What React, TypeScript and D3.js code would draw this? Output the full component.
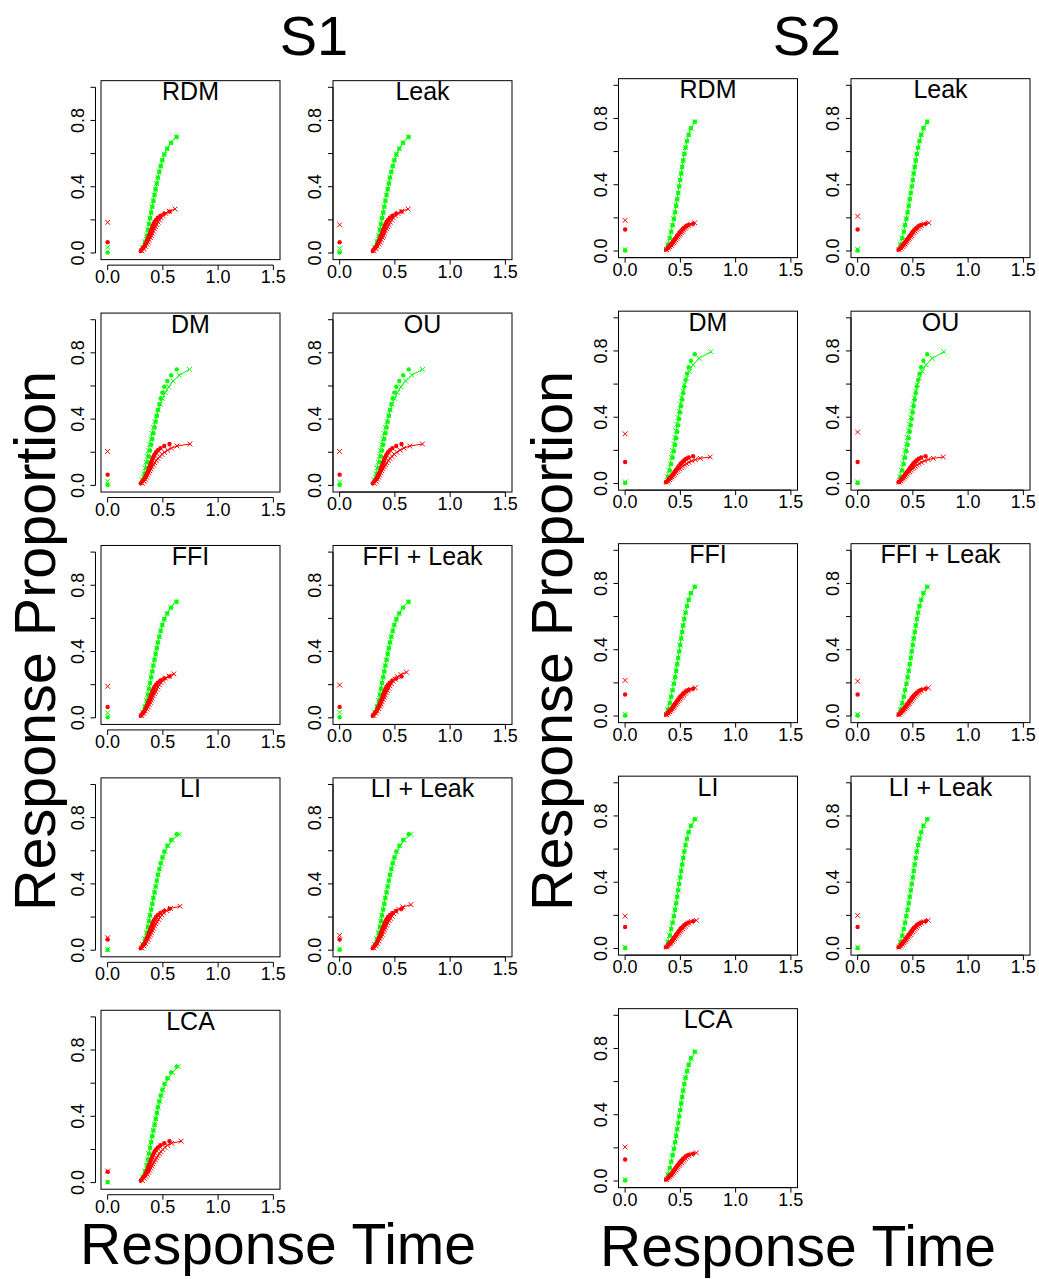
import React from 'react';
import * as d3 from 'd3';

// panel titles, in reading order (two per row)
const modelNames = ['RDM', 'Leak', 'DM', 'OU', 'FFI', 'FFI + Leak', 'LI', 'LI + Leak', 'LCA'];
const xTicks = [0, 0.5, 1.0, 1.5];
const yTicks = [0, 0.2, 0.4, 0.6, 0.8, 1.0];
const yTickLabels = ['0.0', '', '0.4', '', '0.8', ''];

// cumulative proportions (defective CDF levels)
const s1GreenY = [0.035, 0.07, 0.105, 0.14, 0.175, 0.21, 0.245, 0.28, 0.315, 0.35, 0.385, 0.42, 0.455, 0.49, 0.525, 0.56, 0.595, 0.63, 0.665, 0.70];
const s1RedY = [0.0125, 0.025, 0.0375, 0.05, 0.0625, 0.075, 0.0875, 0.1, 0.1125, 0.125, 0.1375, 0.15, 0.1625, 0.175, 0.1875, 0.2, 0.2125, 0.225, 0.2375, 0.25];
const s1RedYModel = [0.013, 0.026, 0.04, 0.053, 0.066, 0.08, 0.093, 0.106, 0.119, 0.133, 0.146, 0.159, 0.172, 0.186, 0.199, 0.212, 0.225, 0.239, 0.252, 0.265];
const s1RedYHigh = [0.0137, 0.0275, 0.041, 0.055, 0.069, 0.0825, 0.096, 0.11, 0.124, 0.1375, 0.151, 0.165, 0.179, 0.1925, 0.206, 0.22, 0.234, 0.2475, 0.261, 0.275];
const s2GreenY = [0.039, 0.078, 0.117, 0.156, 0.195, 0.234, 0.273, 0.312, 0.351, 0.39, 0.429, 0.468, 0.507, 0.546, 0.585, 0.624, 0.663, 0.702, 0.741, 0.78];
const s2GreenYLong = [0.04, 0.08, 0.119, 0.159, 0.199, 0.239, 0.278, 0.318, 0.358, 0.398, 0.437, 0.477, 0.517, 0.557, 0.596, 0.636, 0.676, 0.716, 0.755, 0.795];
const s2RedY = [0.008, 0.016, 0.025, 0.033, 0.041, 0.05, 0.058, 0.066, 0.074, 0.083, 0.091, 0.099, 0.107, 0.116, 0.124, 0.132, 0.14, 0.149, 0.157, 0.165];
const s2RedYModel = [0.0085, 0.017, 0.0255, 0.034, 0.0425, 0.051, 0.0595, 0.068, 0.0765, 0.085, 0.0935, 0.102, 0.1105, 0.119, 0.1275, 0.136, 0.1445, 0.153, 0.1615, 0.17];
const s2RedYLong = [0.008, 0.016, 0.024, 0.032, 0.04, 0.048, 0.056, 0.064, 0.072, 0.08, 0.088, 0.096, 0.104, 0.112, 0.12, 0.128, 0.136, 0.144, 0.152, 0.16];

// observed data (dots)
const s1DataGreenX = [0.32, 0.34, 0.355, 0.365, 0.375, 0.385, 0.395, 0.405, 0.415, 0.425, 0.435, 0.445, 0.455, 0.468, 0.48, 0.495, 0.513, 0.54, 0.575, 0.625];
const s1DataRedX = [0.30, 0.315, 0.33, 0.34, 0.35, 0.358, 0.366, 0.373, 0.38, 0.387, 0.394, 0.401, 0.408, 0.416, 0.425, 0.438, 0.455, 0.478, 0.512, 0.56];
const s2DataGreenX = [0.39, 0.405, 0.418, 0.43, 0.442, 0.453, 0.463, 0.472, 0.481, 0.49, 0.499, 0.508, 0.517, 0.526, 0.536, 0.547, 0.56, 0.575, 0.595, 0.63];
const s2DataRedX = [0.37, 0.385, 0.397, 0.408, 0.418, 0.427, 0.436, 0.445, 0.454, 0.463, 0.472, 0.481, 0.49, 0.5, 0.51, 0.522, 0.535, 0.552, 0.575, 0.615];
const s1DataZero = { green: 0.003, red: 0.065 };
const s2DataZero = { green: 0.003, red: 0.13 };

// model predictions, S1
const s1RdmGreen = [0.315, 0.336, 0.351, 0.362, 0.372, 0.382, 0.392, 0.402, 0.412, 0.422, 0.433, 0.444, 0.455, 0.467, 0.48, 0.495, 0.513, 0.538, 0.572, 0.62];
const s1RdmRed = [0.31, 0.328, 0.343, 0.356, 0.367, 0.377, 0.387, 0.396, 0.405, 0.414, 0.424, 0.434, 0.445, 0.457, 0.47, 0.485, 0.503, 0.526, 0.558, 0.61];
const s1LeakGreen = [0.316, 0.337, 0.352, 0.363, 0.373, 0.383, 0.393, 0.403, 0.413, 0.424, 0.435, 0.446, 0.457, 0.469, 0.482, 0.497, 0.515, 0.54, 0.574, 0.62];
const s1LeakRed = [0.311, 0.329, 0.344, 0.357, 0.368, 0.378, 0.388, 0.397, 0.406, 0.415, 0.425, 0.435, 0.446, 0.458, 0.471, 0.486, 0.505, 0.528, 0.562, 0.62];
const s1DmGreen = [0.31, 0.325, 0.337, 0.348, 0.358, 0.368, 0.379, 0.39, 0.402, 0.415, 0.428, 0.442, 0.458, 0.476, 0.497, 0.522, 0.553, 0.593, 0.648, 0.74];
const s1DmRed = [0.315, 0.33, 0.342, 0.352, 0.362, 0.372, 0.382, 0.392, 0.403, 0.414, 0.426, 0.44, 0.455, 0.472, 0.492, 0.515, 0.543, 0.578, 0.628, 0.745];
const s1OuGreen = [0.31, 0.326, 0.338, 0.349, 0.359, 0.369, 0.38, 0.391, 0.403, 0.416, 0.429, 0.443, 0.459, 0.477, 0.498, 0.523, 0.555, 0.596, 0.652, 0.75];
const s1OuRed = [0.316, 0.331, 0.343, 0.353, 0.363, 0.373, 0.383, 0.393, 0.404, 0.415, 0.427, 0.441, 0.456, 0.474, 0.494, 0.518, 0.547, 0.583, 0.635, 0.75];
const s1FfiGreen = [0.315, 0.336, 0.351, 0.362, 0.372, 0.382, 0.392, 0.402, 0.412, 0.422, 0.433, 0.444, 0.455, 0.467, 0.48, 0.495, 0.513, 0.538, 0.572, 0.615];
const s1FfiRed = [0.31, 0.327, 0.342, 0.355, 0.366, 0.376, 0.386, 0.395, 0.404, 0.413, 0.423, 0.433, 0.444, 0.456, 0.469, 0.484, 0.502, 0.524, 0.555, 0.60];
const s1FfiLeakGreen = [0.316, 0.337, 0.352, 0.363, 0.373, 0.383, 0.393, 0.403, 0.413, 0.423, 0.434, 0.445, 0.456, 0.468, 0.481, 0.496, 0.514, 0.539, 0.573, 0.62];
const s1FfiLeakRed = [0.31, 0.327, 0.342, 0.355, 0.366, 0.376, 0.386, 0.395, 0.404, 0.413, 0.423, 0.433, 0.444, 0.456, 0.469, 0.484, 0.502, 0.524, 0.555, 0.605];
const s1LiGreen = [0.315, 0.336, 0.351, 0.362, 0.372, 0.382, 0.392, 0.402, 0.412, 0.423, 0.434, 0.446, 0.458, 0.471, 0.485, 0.501, 0.52, 0.547, 0.585, 0.65];
const s1LiRed = [0.31, 0.328, 0.343, 0.356, 0.367, 0.377, 0.387, 0.396, 0.405, 0.415, 0.425, 0.436, 0.448, 0.461, 0.475, 0.491, 0.51, 0.535, 0.57, 0.655];
const s1LiLeakGreen = [0.315, 0.336, 0.351, 0.362, 0.372, 0.382, 0.392, 0.402, 0.412, 0.423, 0.434, 0.446, 0.458, 0.471, 0.485, 0.501, 0.52, 0.546, 0.583, 0.645];
const s1LiLeakRed = [0.31, 0.328, 0.343, 0.356, 0.367, 0.377, 0.387, 0.396, 0.405, 0.415, 0.425, 0.436, 0.448, 0.461, 0.475, 0.491, 0.51, 0.535, 0.572, 0.645];
const s1LcaGreen = [0.316, 0.337, 0.352, 0.363, 0.373, 0.383, 0.393, 0.403, 0.413, 0.424, 0.435, 0.447, 0.459, 0.472, 0.486, 0.502, 0.521, 0.548, 0.587, 0.64];
const s1LcaRed = [0.315, 0.333, 0.348, 0.36, 0.371, 0.381, 0.391, 0.401, 0.411, 0.421, 0.432, 0.443, 0.455, 0.468, 0.482, 0.498, 0.518, 0.543, 0.58, 0.665];
// model proportions at time 0
const s1ZeroGreen = [0.035, 0.027, 0.025, 0.02, 0.03, 0.034, 0.005, 0.008, 0.003];
const s1ZeroRed = [0.185, 0.17, 0.205, 0.205, 0.19, 0.198, 0.075, 0.09, 0.07];

// model predictions, S2
const s2RdmGreen = [0.385, 0.401, 0.415, 0.427, 0.439, 0.45, 0.46, 0.47, 0.479, 0.488, 0.497, 0.506, 0.515, 0.525, 0.535, 0.546, 0.559, 0.575, 0.596, 0.63];
const s2RdmRed = [0.375, 0.392, 0.405, 0.417, 0.428, 0.438, 0.448, 0.458, 0.468, 0.478, 0.488, 0.498, 0.508, 0.519, 0.53, 0.542, 0.556, 0.572, 0.594, 0.63];
const s2LeakGreen = [0.386, 0.402, 0.416, 0.428, 0.44, 0.451, 0.461, 0.471, 0.48, 0.489, 0.498, 0.507, 0.516, 0.526, 0.536, 0.547, 0.56, 0.576, 0.597, 0.63];
const s2LeakRed = [0.376, 0.393, 0.406, 0.418, 0.429, 0.439, 0.449, 0.459, 0.469, 0.479, 0.489, 0.499, 0.51, 0.521, 0.533, 0.546, 0.56, 0.577, 0.60, 0.645];
const s2DmGreen = [0.38, 0.395, 0.408, 0.419, 0.43, 0.44, 0.45, 0.459, 0.468, 0.478, 0.488, 0.499, 0.51, 0.523, 0.537, 0.556, 0.58, 0.615, 0.67, 0.775];
const s2DmRed = [0.375, 0.39, 0.402, 0.413, 0.424, 0.435, 0.446, 0.458, 0.47, 0.482, 0.495, 0.508, 0.522, 0.538, 0.556, 0.577, 0.602, 0.635, 0.68, 0.77];
const s2OuGreen = [0.38, 0.395, 0.408, 0.42, 0.431, 0.441, 0.451, 0.46, 0.47, 0.48, 0.49, 0.501, 0.513, 0.526, 0.54, 0.559, 0.584, 0.62, 0.675, 0.78];
const s2OuRed = [0.376, 0.391, 0.403, 0.414, 0.425, 0.436, 0.447, 0.459, 0.471, 0.483, 0.496, 0.509, 0.523, 0.539, 0.557, 0.578, 0.604, 0.638, 0.685, 0.775];
const s2FfiGreen = [0.385, 0.401, 0.415, 0.427, 0.439, 0.45, 0.46, 0.47, 0.479, 0.488, 0.497, 0.506, 0.515, 0.525, 0.535, 0.546, 0.559, 0.575, 0.596, 0.632];
const s2FfiRed = [0.375, 0.391, 0.404, 0.416, 0.427, 0.437, 0.447, 0.457, 0.467, 0.477, 0.487, 0.497, 0.507, 0.518, 0.529, 0.541, 0.555, 0.571, 0.593, 0.635];
const s2FfiLeakGreen = [0.386, 0.402, 0.416, 0.428, 0.44, 0.451, 0.461, 0.471, 0.48, 0.489, 0.498, 0.507, 0.516, 0.526, 0.536, 0.547, 0.56, 0.576, 0.597, 0.632];
const s2FfiLeakRed = [0.376, 0.392, 0.405, 0.417, 0.428, 0.438, 0.448, 0.458, 0.468, 0.478, 0.488, 0.498, 0.509, 0.52, 0.532, 0.545, 0.559, 0.576, 0.598, 0.64];
const s2LiGreen = [0.385, 0.401, 0.415, 0.427, 0.439, 0.45, 0.46, 0.47, 0.479, 0.488, 0.497, 0.506, 0.515, 0.525, 0.535, 0.546, 0.559, 0.575, 0.597, 0.635];
const s2LiRed = [0.376, 0.392, 0.405, 0.417, 0.428, 0.438, 0.448, 0.458, 0.468, 0.478, 0.488, 0.498, 0.509, 0.52, 0.532, 0.545, 0.56, 0.577, 0.60, 0.645];
const s2LiLeakGreen = [0.385, 0.401, 0.415, 0.427, 0.439, 0.45, 0.46, 0.47, 0.479, 0.488, 0.497, 0.506, 0.515, 0.525, 0.535, 0.546, 0.559, 0.575, 0.597, 0.633];
const s2LiLeakRed = [0.376, 0.392, 0.405, 0.417, 0.428, 0.438, 0.448, 0.458, 0.468, 0.478, 0.488, 0.498, 0.509, 0.52, 0.532, 0.545, 0.56, 0.577, 0.60, 0.64];
const s2LcaGreen = [0.386, 0.402, 0.416, 0.428, 0.44, 0.451, 0.461, 0.471, 0.48, 0.489, 0.498, 0.507, 0.516, 0.526, 0.536, 0.547, 0.56, 0.576, 0.598, 0.635];
const s2LcaRed = [0.376, 0.393, 0.406, 0.418, 0.429, 0.439, 0.449, 0.459, 0.469, 0.479, 0.489, 0.5, 0.511, 0.522, 0.534, 0.547, 0.561, 0.578, 0.601, 0.645];
const s2ZeroGreen = [0.008, 0.01, 0.01, 0.01, 0.01, 0.01, 0.008, 0.008, 0.008];
const s2ZeroRed = [0.185, 0.21, 0.30, 0.31, 0.215, 0.21, 0.195, 0.2, 0.205];

const GREEN = '#00ff00';
const RED = '#ff0000';
const FONT = '"Liberation Sans", Arial, Helvetica, sans-serif';

type Series = { x: number[]; y: number[] };
type PanelData = {
  name: string;
  modelGreen: Series;
  modelRed: Series;
  zeroGreen: number;
  zeroRed: number;
};

const s1Panels: PanelData[] = [
  [s1RdmGreen, s1GreenY, s1RdmRed, s1RedYModel],
  [s1LeakGreen, s1GreenY, s1LeakRed, s1RedYModel],
  [s1DmGreen, s1GreenY, s1DmRed, s1RedY],
  [s1OuGreen, s1GreenY, s1OuRed, s1RedY],
  [s1FfiGreen, s1GreenY, s1FfiRed, s1RedYModel],
  [s1FfiLeakGreen, s1GreenY, s1FfiLeakRed, s1RedYHigh],
  [s1LiGreen, s1GreenY, s1LiRed, s1RedYModel],
  [s1LiLeakGreen, s1GreenY, s1LiLeakRed, s1RedYHigh],
  [s1LcaGreen, s1GreenY, s1LcaRed, s1RedY],
].map((d, i) => ({
  name: modelNames[i],
  modelGreen: { x: d[0], y: d[1] },
  modelRed: { x: d[2], y: d[3] },
  zeroGreen: s1ZeroGreen[i],
  zeroRed: s1ZeroRed[i],
}));

const s2Panels: PanelData[] = [
  [s2RdmGreen, s2GreenY, s2RdmRed, s2RedYModel],
  [s2LeakGreen, s2GreenY, s2LeakRed, s2RedYModel],
  [s2DmGreen, s2GreenYLong, s2DmRed, s2RedYLong],
  [s2OuGreen, s2GreenYLong, s2OuRed, s2RedYLong],
  [s2FfiGreen, s2GreenY, s2FfiRed, s2RedYModel],
  [s2FfiLeakGreen, s2GreenY, s2FfiLeakRed, s2RedYModel],
  [s2LiGreen, s2GreenY, s2LiRed, s2RedYModel],
  [s2LiLeakGreen, s2GreenY, s2LiLeakRed, s2RedYModel],
  [s2LcaGreen, s2GreenY, s2LcaRed, s2RedYModel],
].map((d, i) => ({
  name: modelNames[i],
  modelGreen: { x: d[0], y: d[1] },
  modelRed: { x: d[2], y: d[3] },
  zeroGreen: s2ZeroGreen[i],
  zeroRed: s2ZeroRed[i],
}));

const BOX_W = 179;
const PX_PER_X = 110.5;
const PX_PER_Y = 165.7;

const Cross = ({ cx, cy, color }) => {
  const h = 2.4;
  return (
    <path
      d={`M${cx - h},${cy - h}L${cx + h},${cy + h}M${cx - h},${cy + h}L${cx + h},${cy - h}`}
      stroke={color}
      strokeWidth={1}
      fill="none"
    />
  );
};

const Panel = ({ panel, left, zeroY, dataGreen, dataRed, dataZero, axisOffset }) => {
  const x = d3.scaleLinear().domain([0, 1.5]).range([left + 0.06 * PX_PER_X, left + 1.56 * PX_PER_X]);
  const y = d3.scaleLinear().domain([0, 1]).range([zeroY, zeroY - PX_PER_Y]);
  const top = y(1.04);
  const bottom = y(-0.04);
  const right = left + BOX_W;
  const axisY = bottom + axisOffset;
  const axisX = left - axisOffset;

  const line = d3.line<[number, number]>().x(d => x(d[0])).y(d => y(d[1]));
  const pts = (s: Series) => s.x.map((v, i) => [v, s.y[i]] as [number, number]);

  return (
    <g>
      <rect x={left} y={top} width={BOX_W} height={bottom - top} fill="none" stroke="#000" strokeWidth={1} />
      {/* x axis */}
      <line x1={x(0)} x2={x(1.5)} y1={axisY} y2={axisY} stroke="#000" />
      {xTicks.map(t => (
        <g key={t}>
          <line x1={x(t)} x2={x(t)} y1={axisY} y2={axisY + 5} stroke="#000" />
          <text x={x(t)} y={axisY + 18} textAnchor="middle" fontSize={18} fontFamily={FONT}>
            {t.toFixed(1)}
          </text>
        </g>
      ))}
      {/* y axis */}
      <line x1={axisX} x2={axisX} y1={y(0)} y2={y(1)} stroke="#000" />
      {yTicks.map((t, i) => (
        <g key={t}>
          <line x1={axisX - 5} x2={axisX} y1={y(t)} y2={y(t)} stroke="#000" />
          {yTickLabels[i] && (
            <text
              transform={`translate(${axisX - 12},${y(t)}) rotate(-90)`}
              textAnchor="middle"
              fontSize={18}
              fontFamily={FONT}
            >
              {yTickLabels[i]}
            </text>
          )}
        </g>
      ))}
      <text x={(left + right) / 2} y={top + 19.5} textAnchor="middle" fontSize={25} fontFamily={FONT}>
        {panel.name}
      </text>

      {/* green: correct responses */}
      <path d={line(pts(panel.modelGreen)) || ''} stroke={GREEN} strokeWidth={1} fill="none" />
      {pts(dataGreen).map((p, i) => (
        <circle key={'dg' + i} cx={x(p[0])} cy={y(p[1])} r={2.2} fill={GREEN} />
      ))}
      {pts(panel.modelGreen).map((p, i) => (
        <Cross key={'mg' + i} cx={x(p[0])} cy={y(p[1])} color={GREEN} />
      ))}
      <circle cx={x(0)} cy={y(dataZero.green)} r={2.2} fill={GREEN} />
      <Cross cx={x(0)} cy={y(panel.zeroGreen)} color={GREEN} />

      {/* red: error responses */}
      <path d={line(pts(panel.modelRed)) || ''} stroke={RED} strokeWidth={1} fill="none" />
      {pts(dataRed).map((p, i) => (
        <circle key={'dr' + i} cx={x(p[0])} cy={y(p[1])} r={2.2} fill={RED} />
      ))}
      {pts(panel.modelRed).map((p, i) => (
        <Cross key={'mr' + i} cx={x(p[0])} cy={y(p[1])} color={RED} />
      ))}
      <circle cx={x(0)} cy={y(dataZero.red)} r={2.2} fill={RED} />
      <Cross cx={x(0)} cy={y(panel.zeroRed)} color={RED} />
    </g>
  );
};

const App = () => {
  const s1Lefts = [101, 333];
  const s2Lefts = [618.5, 851];
  const s1Zero = (row: number) => 253 + 232.4 * row;
  const s2Zero = (row: number) => 251 + 232.5 * row;

  return (
    <svg
      width={1039}
      height={1279}
      style={{ position: 'absolute', left: 0, top: 0, background: '#fff' }}
    >
      <rect width={1039} height={1279} fill="#fff" />
      <text x={314} y={55} textAnchor="middle" fontSize={56} fontFamily={FONT}>S1</text>
      <text x={807} y={55} textAnchor="middle" fontSize={56} fontFamily={FONT}>S2</text>

      {s1Panels.map((p, i) => (
        <Panel
          key={'s1' + i}
          panel={p}
          left={s1Lefts[i % 2]}
          zeroY={s1Zero(Math.floor(i / 2))}
          dataGreen={{ x: s1DataGreenX, y: s1GreenY }}
          dataRed={{ x: s1DataRedX, y: s1RedY }}
          dataZero={s1DataZero}
          axisOffset={i % 2 === 0 ? 5.5 : 0}
        />
      ))}
      {s2Panels.map((p, i) => (
        <Panel
          key={'s2' + i}
          panel={p}
          left={s2Lefts[i % 2]}
          zeroY={s2Zero(Math.floor(i / 2))}
          dataGreen={{ x: s2DataGreenX, y: s2GreenY }}
          dataRed={{ x: s2DataRedX, y: s2RedY }}
          dataZero={s2DataZero}
          axisOffset={0}
        />
      ))}

      <text transform="translate(55,641) rotate(-90)" textAnchor="middle" fontSize={57.5} fontFamily={FONT}>
        Response Proportion
      </text>
      <text transform="translate(572,641) rotate(-90)" textAnchor="middle" fontSize={57.5} fontFamily={FONT}>
        Response Proportion
      </text>
      <text x={278} y={1264} textAnchor="middle" fontSize={57} fontFamily={FONT}>Response Time</text>
      <text x={798} y={1266} textAnchor="middle" fontSize={57} fontFamily={FONT}>Response Time</text>
    </svg>
  );
};

export default App;
